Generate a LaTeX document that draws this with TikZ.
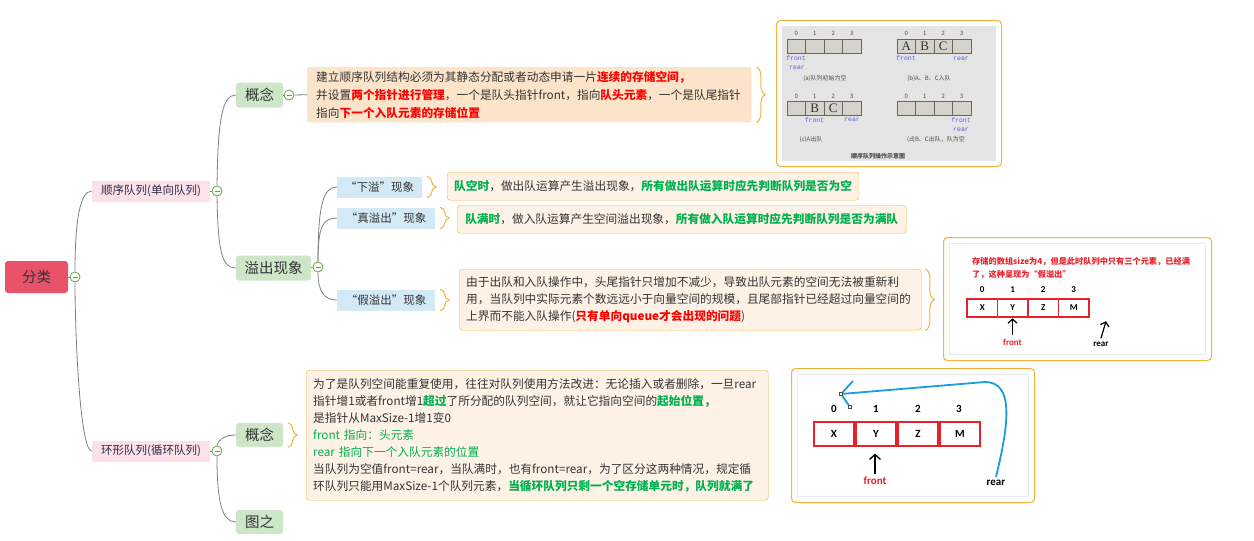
\documentclass[tikz,border=0pt]{standalone}
\usepackage{fontspec}
\setmainfont{Noto Sans CJK SC}
\newfontfamily\figmono{Liberation Mono}
\newfontfamily\figserif{Liberation Serif}
\newfontfamily\figcal{Carlito}
\usetikzlibrary{positioning,decorations.pathreplacing,arrows.meta}

% mind map colours
\definecolor{mapRoot}{HTML}{E8536A}
\definecolor{mapPink}{HTML}{FDE1E6}
\definecolor{mapGreen}{HTML}{CDE6C7}
\definecolor{mapBlue}{HTML}{D3EAF6}
\definecolor{mapPeach}{HTML}{FCE4CA}
\definecolor{mapCream}{HTML}{FEF2E6}
\definecolor{mapOrange}{HTML}{F3B23A}
\definecolor{mapLine}{HTML}{808080}
\definecolor{mapFold}{HTML}{5FA83A}
\definecolor{mapText}{HTML}{333333}
\definecolor{noteRed}{HTML}{FF0000}
\definecolor{noteGreen}{HTML}{00B050}
% figure colours
\definecolor{figGray}{HTML}{E4E4E4}
\definecolor{figCell}{HTML}{D5D1CB}
\definecolor{figBlue}{HTML}{5A5AE6}
\definecolor{figRed}{HTML}{E8202A}
\definecolor{figArc}{HTML}{1E9BE0}

\newcommand{\redb}[1]{\textcolor{noteRed}{\bfseries #1}}
\newcommand{\grnb}[1]{\textcolor{noteGreen}{\bfseries #1}}

\tikzset{
  rootnode/.style={fill=mapRoot, rounded corners=3pt, minimum width=63pt, minimum height=32pt,
    font=\fontsize{14.5}{16}\selectfont, text=mapText},
  branchnode/.style={fill=mapPink, minimum width=118pt, minimum height=21pt,
    font=\fontsize{11.5}{13}\selectfont, text=mapText!85!blue},
  topicnode/.style={fill=mapGreen, rounded corners=3pt, minimum width=47pt, minimum height=25pt,
    font=\fontsize{14.5}{16}\selectfont, text=mapText},
  subnode/.style={fill=mapBlue, minimum height=21pt, font=\fontsize{11.5}{13}\selectfont, text=mapText},
  notebox/.style={draw=mapOrange, fill=mapCream, rounded corners=3pt, anchor=north west, align=left,
    inner xsep=7pt, inner ysep=0pt, font=\fontsize{11.7}{17}\selectfont, text=mapText},
  figbox/.style={draw=mapOrange, line width=1pt, rounded corners=4pt, fill=white, anchor=north west},
  foldbtn/.style={circle, draw=mapFold, fill=white, line width=0.8pt, minimum size=10pt, inner sep=0pt,
    path picture={\draw[mapFold, line width=0.9pt] ([xshift=2.5pt]path picture bounding box.west)
      -- ([xshift=-2.5pt]path picture bounding box.east);}},
  maplink/.style={draw=mapLine, line width=0.8pt},
  bracemark/.style={draw=mapOrange, line width=1pt, decorate, decoration={brace, amplitude=9pt}},
  figcell/.style={draw=black!60, fill=figCell, line width=0.6pt},
  qcell/.style={draw=figRed, line width=1.5pt},
}

\begin{document}
\begin{tikzpicture}[x=1pt, y=-1pt]
\useasboundingbox (0,0) rectangle (1254,541);

% mind map nodes
\node[rootnode] (root) at (36.5,277) {分类};
\node[foldbtn] (f0) at (75,277) {};
\node[branchnode] (seq) at (151,191) {顺序队列(单向队列)};
\node[foldbtn] (f1) at (217,191) {};
\node[branchnode] (ring) at (151,451) {环形队列(循环队列)};
\node[foldbtn] (f2) at (217,451) {};
\node[topicnode] (seqdef) at (259.5,95) {概念};
\node[foldbtn] (f3) at (289,95) {};
\node[topicnode, minimum width=75pt] (flow) at (273.5,268) {溢出现象};
\node[foldbtn] (f4) at (318,267) {};
\node[topicnode, minimum height=24pt] (ringdef) at (259.5,435) {概念};
\node[topicnode, minimum height=24pt] (ringfig) at (259.5,522) {图之};
\node[subnode, minimum width=85pt] (under) at (379.5,187) {“下溢”现象};
\node[subnode, minimum width=98pt] (trueflow) at (386,218) {“真溢出”现象};
\node[subnode, minimum width=98pt] (fakeflow) at (386,300) {“假溢出”现象};

% connectors
\draw[maplink] (root.east) -- (f0.west);
\draw[maplink] (f0.north) .. controls +(0,-50) and +(-12,0) .. (seq.west);
\draw[maplink] (f0.south) .. controls +(0,50) and +(-12,0) .. (ring.west);
\draw[maplink] (seq.east) -- (f1.west);
\draw[maplink] (f1.north) .. controls +(1,-65) and +(-14,0) .. (seqdef.west);
\draw[maplink] (f1.south) .. controls +(1,55) and +(-14,0) .. (flow.west);
\draw[maplink] (ring.east) -- (f2.west);
\draw[maplink] (f2.north) .. controls +(2,-8) and +(-8,0) .. (ringdef.west);
\draw[maplink] (f2.south) .. controls +(0,45) and +(-14,0) .. (ringfig.west);
\draw[maplink] (seqdef.east) -- (f3.west);
\draw[maplink] (flow.east) -- (f4.west);
\draw[maplink] (f4.north) .. controls +(0,-55) and +(-14,0) .. (under.west);
\draw[maplink] (f4.north) .. controls +(0,-35) and +(-14,0) .. (trueflow.west);
\draw[maplink] (f4.south) .. controls +(0,20) and +(-12,0) .. (fakeflow.west);

% notes
\node[notebox, draw=mapPeach, fill=mapPeach, rounded corners=1pt, inner xsep=9pt, text width=426pt,
  minimum height=55pt, font=\fontsize{11.7}{18}\selectfont] (seqnote) at (307,67) {%
建立顺序队列结构必须为其静态分配或者动态申请一片\redb{连续的存储空间，}\\
并设置\redb{两个指针进行管理}，一个是队头指针front，指向\redb{队头元素}，一个是队尾指针\\
指向\redb{下一个入队元素的存储位置}};
\draw[maplink] (f3.east) -- (seqnote.west);
\node[notebox, minimum width=411pt, minimum height=28pt] (undernote) at (447,172) {%
\grnb{队空时}，做出队运算产生溢出现象，\grnb{所有做出队运算时应先判断队列是否为空}};
\node[notebox, minimum width=449pt, minimum height=28pt] (truenote) at (457,205) {%
\grnb{队满时}，做入队运算产生空间溢出现象，\grnb{所有做入队运算时应先判断队列是否为满队}};
\node[notebox, text width=448pt, minimum height=61pt] (fakenote) at (459,269) {%
由于出队和入队操作中，头尾指针只增加不减少，导致出队元素的空间无法被重新利\\
用，当队列中实际元素个数远远小于向量空间的规模，且尾部指针已经超过向量空间的\\
上界而不能入队操作(\redb{只有单向queue才会出现的问题})};
\node[notebox, text width=448pt, minimum height=130pt] (ringnote) at (306,370) {%
为了是队列空间能重复使用，往往对队列使用方法改进：无论插入或者删除，一旦rear\\
指针增1或者front增1\grnb{超过}了所分配的队列空间，就让它指向空间的\grnb{起始位置，}\\
是指针从MaxSize-1增1变0\\
\textcolor{noteGreen}{front 指向：头元素}\\
\textcolor{noteGreen}{rear 指向下一个入队元素的位置}\\
当队列为空值front=rear，当队满时，也有front=rear，为了区分这两种情况，规定循\\
环队列只能用MaxSize-1个队列元素，\grnb{当循环队列只剩一个空存储单元时，队列就满了}};

% braces
\draw[bracemark] ([xshift=5pt]seqnote.north east) -- ([xshift=5pt]seqnote.south east);
\draw[bracemark] ([xshift=5pt]under.north east) -- ([xshift=5pt]under.south east);
\draw[bracemark] ([xshift=5pt]trueflow.north east) -- ([xshift=5pt]trueflow.south east);
\draw[bracemark] ([xshift=5pt]fakeflow.north east) -- ([xshift=5pt]fakeflow.south east);
\draw[bracemark] ([xshift=5pt]ringdef.north east) -- ([xshift=5pt]ringdef.south east);
\draw[bracemark] ([xshift=4pt]fakenote.north east) -- ([xshift=4pt]fakenote.south east);

% figure 1: sequential queue states
\node[figbox, minimum width=225pt, minimum height=146pt] (fig1) at (776,20) {};
\fill[figGray] (782,26) rectangle (996,161);
\begin{scope}[font=\fontsize{6}{7}\selectfont, text=black!70]
  \draw[figcell] (787,39) rectangle ++(18.5,14.5);
  \draw[figcell] (805.5,39) rectangle ++(18.5,14.5);
  \draw[figcell] (824,39) rectangle ++(18.5,14.5);
  \draw[figcell] (842.5,39) rectangle ++(18.5,14.5);
  \draw[figcell] (897,39) rectangle ++(18.5,14.5);
  \draw[figcell] (915.5,39) rectangle ++(18.5,14.5);
  \draw[figcell] (934,39) rectangle ++(18.5,14.5);
  \draw[figcell] (952.5,39) rectangle ++(18.5,14.5);
  \draw[figcell] (787,101) rectangle ++(18.5,14.5);
  \draw[figcell] (805.5,101) rectangle ++(18.5,14.5);
  \draw[figcell] (824,101) rectangle ++(18.5,14.5);
  \draw[figcell] (842.5,101) rectangle ++(18.5,14.5);
  \draw[figcell] (897,101) rectangle ++(18.5,14.5);
  \draw[figcell] (915.5,101) rectangle ++(18.5,14.5);
  \draw[figcell] (934,101) rectangle ++(18.5,14.5);
  \draw[figcell] (952.5,101) rectangle ++(18.5,14.5);
  % index labels
  \node (ia0) at (796.25,33.5) {0};  \node (ia1) at (814.75,33.5) {1};
  \node (ia2) at (833.25,33.5) {2};  \node (ia3) at (851.75,33.5) {3};
  \node (ib0) at (906.25,33.5) {0};  \node (ib1) at (924.75,33.5) {1};
  \node (ib2) at (943.25,33.5) {2};  \node (ib3) at (961.75,33.5) {3};
  \node (ic0) at (796.25,96) {0};    \node (ic1) at (814.75,96) {1};
  \node (ic2) at (833.25,96) {2};    \node (ic3) at (851.75,96) {3};
  \node (id0) at (906.25,96) {0};    \node (id1) at (924.75,96) {1};
  \node (id2) at (943.25,96) {2};    \node (id3) at (961.75,96) {3};
  % cell letters
  \node[font=\figserif\fontsize{13}{13}\selectfont, text=black!80] (lb0) at (906.25,46.5) {A};
  \node[font=\figserif\fontsize{13}{13}\selectfont, text=black!80] (lb1) at (924.75,46.5) {B};
  \node[font=\figserif\fontsize{13}{13}\selectfont, text=black!80] (lb2) at (943.25,46.5) {C};
  \node[font=\figserif\fontsize{13}{13}\selectfont, text=black!80] (lc1) at (814.75,108.5) {B};
  \node[font=\figserif\fontsize{13}{13}\selectfont, text=black!80] (lc2) at (833.25,108.5) {C};
  % pointers
  \begin{scope}[font=\figmono\fontsize{6.5}{7}\selectfont, text=figBlue]
    \node (fa) at (796,58.5) {front};  \node (ra) at (797,67.5) {rear};
    \node (fb) at (906,58.5) {front};  \node (rb) at (961,58.5) {rear};
    \node (fc) at (814.5,120) {front}; \node (rc) at (852,120) {rear};
    \node (fd) at (961,120) {front};   \node (rd) at (961,129.5) {rear};
  \end{scope}
  % captions
  \node (ca) at (825,79) {(a)队列初始为空};
  \node (cb) at (929,79) {(b)A、B、C入队};
  \node (cc) at (811,140) {(c)A出队};
  \node (cd) at (936,140) {(d)B、C出队，队为空};
  \node[font=\bfseries\fontsize{6}{7}\selectfont] (cf) at (878,156) {顺序队列操作示意图};
\end{scope}

% figure 2: false overflow
\node[figbox, minimum width=268pt, minimum height=123pt] (fig2) at (943,237) {};
\draw[black!8] (949,243) rectangle (1205,354);
\node[anchor=west, align=left, inner sep=0pt, text=figRed, font=\bfseries\fontsize{8.2}{13}\selectfont] (fakemsg)
  at (972,268.5) {存储的数组size为4，但是此时队列中只有三个元素，已经满\\了，这种呈现为“假溢出”};
\begin{scope}[font=\figcal\bfseries\fontsize{9}{10}\selectfont]
  \node (ja0) at (982.25,290) {0};  \node (ja1) at (1012.75,290) {1};
  \node (ja2) at (1043.25,290) {2}; \node (ja3) at (1073.75,290) {3};
  \draw[qcell] (967,299) rectangle ++(30.5,18);
  \draw[qcell] (997.5,299) rectangle ++(30.5,18);
  \draw[qcell] (1028,299) rectangle ++(30.5,18);
  \draw[qcell] (1058.5,299) rectangle ++(30.5,18);
  \node (jx) at (982.25,308) {X};  \node (jy) at (1012.75,308) {Y};
  \node (jz) at (1043.25,308) {Z}; \node (jm) at (1073.75,308) {M};
  \node[text=figRed] (front2) at (1012.5,342) {front};
  \node (rear2) at (1101,344) {rear};
\end{scope}
\draw[line width=1.2pt, -{Straight Barb[length=4pt, width=9pt]}] (front2.north) -- ++(0,-17);
\draw[line width=1.2pt, -{Straight Barb[length=4pt, width=9pt]}] (rear2.north) -- ++(5,-17);

% figure 3: circular queue
\node[figbox, minimum width=243pt, minimum height=134pt] (fig3) at (791,368) {};
\draw[black!8] (797,374) rectangle (1028,496);
\begin{scope}[font=\figcal\bfseries\fontsize{11}{12}\selectfont]
  \node (ka0) at (834,409) {0};  \node (ka1) at (876,409) {1};
  \node (ka2) at (918,409) {2};  \node (ka3) at (959,409) {3};
  \draw[qcell, line width=2pt] (814,422) rectangle (854,446);
  \draw[qcell, line width=2pt] (856,422) rectangle (896,446);
  \draw[qcell, line width=2pt] (898,422) rectangle (938,446);
  \draw[qcell, line width=2pt] (940,422) rectangle (980,446);
  \node (kx) at (834,434) {X};  \node (ky) at (876,434) {Y};
  \node (kz) at (918,434) {Z};  \node (km) at (960,434) {M};
  \node[text=figRed] (front3) at (875,481) {front};
  \node (rear3) at (996,483) {rear};
\end{scope}
\draw[line width=1.3pt, -{Straight Barb[length=5pt, width=11pt]}] (front3.north) -- ++(0,-20);
\coordinate (arcTip) at (841,394);
\draw[figArc, line width=1.8pt] (rear3.north) .. controls (1010,420) and (1013,382) .. (985,382) -- (arcTip);
\draw[figArc, line width=1.8pt] (arcTip) -- ++(12,-13);
\draw[figArc, line width=1.8pt] (arcTip) -- ++(9,13);
\draw[black!70, fill=white, line width=0.4pt] (839.5,392.5) rectangle ++(3,3);
\draw[black!70, fill=white, line width=0.4pt] (848.5,405.5) rectangle ++(3,3);
\end{tikzpicture}
\end{document}
